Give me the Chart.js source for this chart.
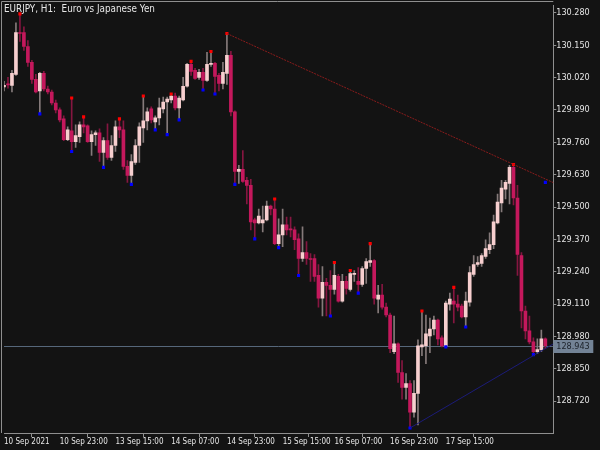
<!DOCTYPE html>
<html>
<head>
<meta charset="utf-8">
<script src="https://cdn.jsdelivr.net/npm/chart.js@4/dist/chart.umd.min.js"></script>
<style>
  html, body { margin: 0; background: #131313; }
  #wrap { width: 600px; height: 450px; }
</style>
</head>
<body>
<div id="wrap"><canvas id="chart"></canvas></div>
<script>
// EURJPY H1 candles, one entry per bar (oldest first)
const opens = [129.982,129.993,129.989,130.033,130.201,130.201,130.145,130.081,130.013,129.966,
  130.037,129.974,129.962,129.918,129.890,129.854,129.771,129.806,129.763,129.783,
  129.830,129.826,129.763,129.791,129.798,129.719,129.767,129.699,129.747,129.822,
  129.810,129.663,129.627,129.679,129.747,129.818,129.846,129.894,129.842,129.858,
  129.894,129.922,129.930,129.946,129.898,129.930,129.985,130.073,130.049,130.021,
  130.041,130.009,130.073,130.077,130.029,129.997,130.037,130.109,129.882,129.643,
  129.651,129.607,129.587,129.448,129.436,129.436,129.448,129.504,129.492,129.353,
  129.388,129.428,129.412,129.408,129.372,129.293,129.317,129.293,129.293,129.225,
  129.134,129.197,129.185,129.169,129.221,129.122,129.201,129.169,129.229,129.201,
  129.189,129.253,129.277,129.285,129.130,129.146,129.098,129.066,128.919,128.950,
  128.835,128.775,128.791,128.676,128.751,128.938,128.942,128.982,129.010,129.046,
  128.974,128.942,129.110,129.122,129.110,129.102,129.058,129.118,129.229,129.269,
  129.273,129.301,129.329,129.349,129.436,129.516,129.572,129.595,129.659,129.536,
  129.305,129.082,129.002,128.958,128.919,128.927,128.970];
const highs = [130.005,130.021,130.049,130.240,130.276,130.224,130.169,130.089,130.033,130.041,
  130.045,129.986,129.970,129.930,129.898,129.866,129.822,129.938,129.830,129.842,
  129.862,129.830,129.806,129.806,129.814,129.779,129.834,129.787,129.846,129.854,
  129.846,129.687,129.711,129.771,129.838,129.946,129.898,129.902,129.866,129.938,
  129.942,129.942,129.954,129.958,129.946,130.021,130.077,130.085,130.057,130.053,
  130.057,130.121,130.125,130.081,130.037,130.081,130.197,130.125,129.886,129.667,
  129.727,129.619,129.611,129.456,129.492,129.504,129.524,129.508,129.532,129.452,
  129.492,129.460,129.460,129.420,129.392,129.420,129.361,129.313,129.309,129.269,
  129.261,129.213,129.245,129.277,129.229,129.229,129.221,129.245,129.245,129.257,
  129.261,129.293,129.353,129.289,129.185,129.189,129.114,129.074,129.062,128.954,
  128.883,128.831,128.803,128.803,128.966,129.082,129.066,129.054,129.062,129.050,
  128.982,129.122,129.154,129.177,129.146,129.110,129.158,129.261,129.305,129.301,
  129.313,129.368,129.396,129.468,129.552,129.607,129.607,129.667,129.671,129.587,
  129.317,129.102,129.062,128.974,128.970,129.006,128.974];
const lows = [129.966,129.977,129.962,130.029,130.165,130.129,130.065,129.997,129.958,129.874,
  129.966,129.954,129.910,129.878,129.842,129.767,129.767,129.723,129.739,129.759,
  129.798,129.759,129.707,129.747,129.683,129.659,129.691,129.687,129.723,129.779,
  129.651,129.599,129.591,129.671,129.679,129.759,129.810,129.838,129.810,129.830,
  129.878,129.791,129.918,129.890,129.850,129.926,129.981,130.029,130.013,130.013,
  129.970,130.005,130.065,129.954,129.966,129.974,129.993,129.866,129.591,129.595,
  129.599,129.512,129.408,129.372,129.432,129.400,129.444,129.468,129.349,129.337,
  129.341,129.388,129.380,129.329,129.225,129.281,129.269,129.201,129.201,129.098,
  129.062,129.062,129.062,129.150,129.118,129.118,129.150,129.162,129.201,129.154,
  129.181,129.193,129.261,129.110,129.074,129.090,129.058,128.915,128.911,128.795,
  128.728,128.728,128.612,128.656,128.624,128.903,128.871,128.915,128.986,128.946,
  128.938,128.938,129.086,129.034,129.082,129.054,129.018,129.102,129.221,129.261,
  129.261,129.293,129.313,129.333,129.432,129.480,129.532,129.512,129.508,129.225,
  129.014,128.970,128.950,128.907,128.911,128.919,128.931];
const closes = [129.989,129.991,130.037,130.201,130.197,130.145,130.081,130.013,129.962,130.037,
  129.974,129.962,129.918,129.890,129.850,129.771,129.810,129.763,129.787,129.830,
  129.822,129.763,129.791,129.798,129.719,129.767,129.699,129.747,129.822,129.810,
  129.663,129.627,129.683,129.747,129.822,129.846,129.882,129.850,129.858,129.898,
  129.922,129.934,129.946,129.898,129.938,129.985,130.073,130.045,130.017,130.041,
  130.009,130.073,130.077,130.025,129.997,130.041,130.109,129.882,129.643,129.651,
  129.603,129.587,129.440,129.436,129.464,129.448,129.504,129.492,129.353,129.388,
  129.428,129.408,129.408,129.369,129.293,129.317,129.293,129.289,129.221,129.134,
  129.197,129.185,129.169,129.225,129.122,129.201,129.173,129.233,129.233,129.189,
  129.253,129.281,129.285,129.134,129.146,129.098,129.066,128.931,128.950,128.835,
  128.775,128.791,128.676,128.751,128.942,128.946,128.990,129.010,129.046,128.970,
  128.942,129.114,129.130,129.110,129.098,129.058,129.122,129.237,129.269,129.277,
  129.305,129.333,129.349,129.440,129.520,129.576,129.599,129.659,129.536,129.309,
  129.082,129.002,128.958,128.919,128.927,128.970,128.943];

// swing markers (bar index, price)
const highDotIdx = [4,17,20,29,35,42,47,52,56,68,83,87,92,105,113,128];
const highDotVal = [130.276,129.938,129.862,129.854,129.946,129.954,130.085,130.125,130.197,129.532,129.277,129.245,129.353,129.082,129.177,129.671];
const lowDotIdx = [9,17,25,32,38,41,44,50,53,58,63,69,74,82,89,102,111,116,133,136];
const lowDotVal = [129.874,129.723,129.659,129.591,129.810,129.791,129.850,129.970,129.954,129.591,129.372,129.337,129.225,129.062,129.154,128.612,128.938,129.018,128.907,129.599];

// trend lines (bar index, price)
const resLineIdx = [56, 138];
const resLineVal = [130.197, 129.598];
const supLineIdx = [102, 138];
const supLineVal = [128.612, 128.950];

const lastPrice = 128.943;

const yTicks = [128.72, 128.85, 128.98, 129.11, 129.24, 129.37, 129.50, 129.63, 129.76, 129.89, 130.02, 130.15, 130.28];
const xTickIdx = [0, 14, 28, 42, 56, 70, 83, 97, 111];
const xTickText = ["10 Sep 2021", "10 Sep 23:00", "13 Sep 15:00", "14 Sep 07:00", "14 Sep 23:00",
  "15 Sep 15:00", "16 Sep 07:00", "16 Sep 23:00", "17 Sep 15:00"];

const BULL = "#f7cfcf", BEAR = "#c4185c";
const BULL_WICK = "#857a7a", BEAR_WICK = "#851640";
const FRAME = "#8f8f8f";
const TXT = "#e6e6e6";
const FONT = "'DejaVu Sans Condensed', 'DejaVu Sans', sans-serif";

// two empty slots on the right (chart shift)
const nSlots = opens.length + 2;
const labels = [];
for (let i = 0; i < nSlots; i++) labels.push(String(i));

const bodies = opens.map((o, i) => [o, closes[i]]);
const wicks = lows.map((l, i) => [l, highs[i]]);
const isBull = opens.map((o, i) => closes[i] >= o);

function sparse(idx, vals) {
  const arr = new Array(nSlots).fill(null);
  idx.forEach((k, j) => { arr[k] = vals[j]; });
  return arr;
}

const framePlugin = {
  id: "mtFrame",
  beforeDatasetsDraw(chart) {
    const { ctx, chartArea: a, scales } = chart;
    const y = Math.round(scales.y.getPixelForValue(lastPrice)) + 0.5;
    ctx.save();
    ctx.strokeStyle = "#56677a";
    ctx.lineWidth = 1;
    ctx.beginPath();
    ctx.moveTo(a.left, y);
    ctx.lineTo(a.right, y);
    ctx.stroke();
    ctx.restore();
  },
  afterDraw(chart) {
    const { ctx, chartArea: a, scales } = chart;
    ctx.save();
    ctx.strokeStyle = FRAME;
    ctx.lineWidth = 1;
    ctx.beginPath();
    ctx.moveTo(1.5, a.bottom);
    ctx.lineTo(1.5, 1.5);
    ctx.lineTo(a.right, 1.5);
    ctx.stroke();

    ctx.fillStyle = TXT;
    ctx.font = "9.8px " + FONT;
    ctx.textBaseline = "middle";
    ctx.textAlign = "left";
    ctx.fillText("EURJPY, H1:  Euro vs Japanese Yen", 4, 9.5);

    // last price tag on the axis
    const y = Math.round(scales.y.getPixelForValue(lastPrice));
    ctx.fillStyle = "#738396";
    ctx.fillRect(a.right, y - 6, 40, 13);
    ctx.fillStyle = "#1b2129";
    ctx.font = "9px " + FONT;
    ctx.fillText(lastPrice.toFixed(3), a.right + 3, y + 0.5);
    ctx.restore();
  }
};

const ctx = document.getElementById("chart").getContext("2d");
new Chart(ctx, {
  type: "bar",
  data: {
    labels: labels,
    datasets: [
      {
        type: "line",
        data: sparse(resLineIdx, resLineVal),
        borderColor: "#8a1c1c",
        borderWidth: 1,
        borderDash: [2, 1],
        pointRadius: 0,
        spanGaps: true,
        order: 0
      },
      {
        type: "line",
        data: sparse(supLineIdx, supLineVal),
        borderColor: "#1c1c78",
        borderWidth: 1,
        pointRadius: 0,
        spanGaps: true,
        order: 0
      },
      {
        type: "line",
        data: sparse(highDotIdx, highDotVal),
        showLine: false,
        pointStyle: "rect",
        pointRadius: 2.2,
        pointBackgroundColor: "#ff0000",
        pointBorderWidth: 0,
        order: 0
      },
      {
        type: "line",
        data: sparse(lowDotIdx, lowDotVal),
        showLine: false,
        pointStyle: "rect",
        pointRadius: 2.2,
        pointBackgroundColor: "#0000ff",
        pointBorderWidth: 0,
        order: 0
      },
      {
        data: bodies,
        backgroundColor: isBull.map(b => b ? BULL : BEAR),
        barThickness: 3,
        minBarLength: 1,
        grouped: false,
        order: 1
      },
      {
        data: wicks,
        backgroundColor: isBull.map(b => b ? BULL_WICK : BEAR_WICK),
        barThickness: 1,
        grouped: false,
        order: 2
      }
    ]
  },
  options: {
    responsive: true,
    maintainAspectRatio: false,
    animation: false,
    layout: { padding: { left: 1.3, top: 1.5, right: 0, bottom: 0 } },
    plugins: {
      legend: { display: false },
      tooltip: { enabled: false }
    },
    scales: {
      x: {
        offset: false,
        grid: { drawOnChartArea: false, color: FRAME, tickLength: 4 },
        border: { display: true, color: FRAME },
        afterBuildTicks: s => { s.ticks = xTickIdx.map(v => ({ value: v })); },
        afterFit: s => { s.height = 17; },
        ticks: {
          autoSkip: false,
          maxRotation: 0,
          align: "start",
          padding: 0,
          color: TXT,
          font: { family: FONT, size: 8 },
          callback: v => xTickText[xTickIdx.indexOf(v)]
        }
      },
      y: {
        position: "right",
        min: 128.592,
        max: 130.310,
        grid: { drawOnChartArea: false, color: FRAME, tickLength: 3 },
        border: { display: true, color: FRAME },
        afterBuildTicks: s => { s.ticks = yTicks.map(v => ({ value: v })); },
        afterFit: s => { s.width = 46.7; },
        ticks: {
          padding: 0,
          color: TXT,
          font: { family: FONT, size: 9 },
          callback: v => v.toFixed(3)
        }
      }
    }
  },
  plugins: [framePlugin]
});
</script>
</body>
</html>
